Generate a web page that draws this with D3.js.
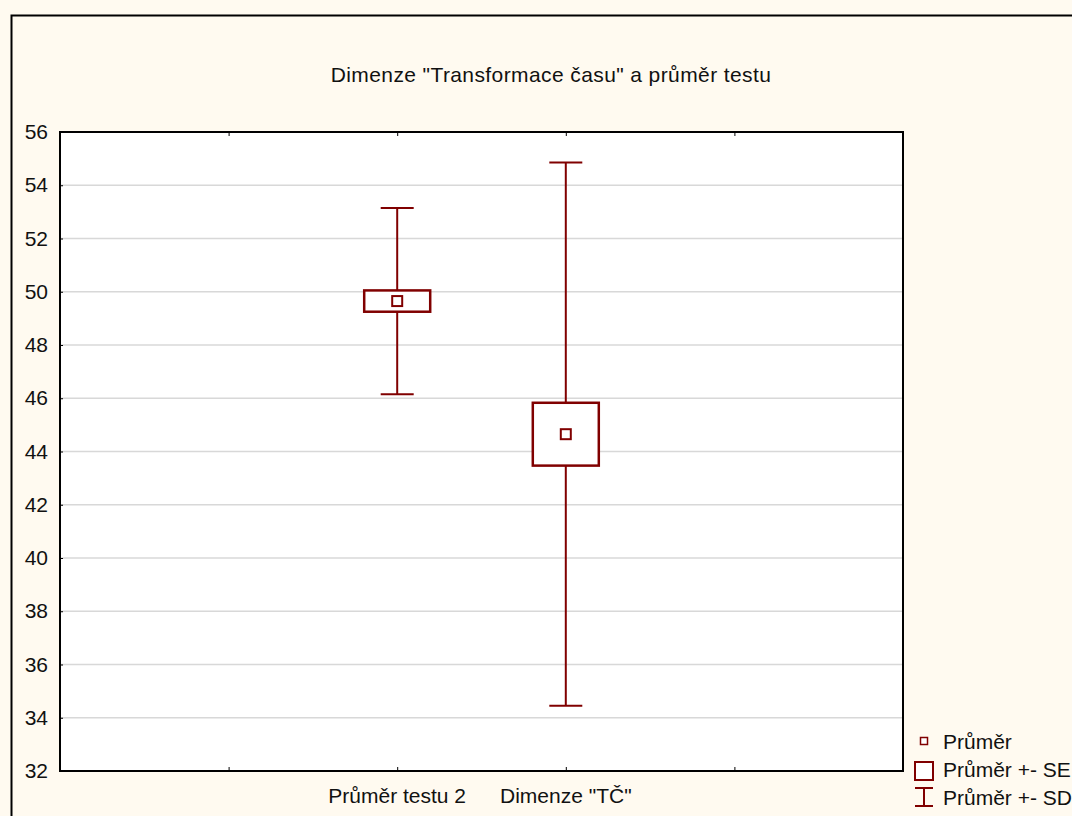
<!DOCTYPE html>
<html>
<head>
<style>
body { margin: 0; background: #fffaf0; }
svg { display: block; font-family: "Liberation Sans", Arial, sans-serif; }
</style>
</head>
<body>
<div id="chart"></div>
<script src="https://d3js.org/d3.v7.min.js"></script>
<script>
// data
var categories = ["Průměr testu 2", "Dimenze \"TČ\""]
var means = [49.65, 44.65]
var se = [0.4, 1.18]
var sd = [3.5, 10.2]
var yTicks = [32, 34, 36, 38, 40, 42, 44, 46, 48, 50, 52, 54, 56]
var legendLabels = ["Průměr", "Průměr +- SE", "Průměr +- SD"]

var width = 1072, height = 816
var margin = {left: 60, top: 132, right: 1072 - 903, bottom: 816 - 771}
var red = "#800000"
var fs = 21

var svg = d3.select("#chart").append("svg")
  .attr("width", width)
  .attr("height", height)

// page background and frame
svg.append("rect").attr("width", width).attr("height", height).attr("fill", "#fffaf0")
svg.append("path")
  .attr("d", "M11.5," + height + "V15.5H" + width)
  .attr("fill", "none").attr("stroke", "black").attr("stroke-width", 2)

var x = d3.scaleLinear().domain([0, 5]).range([margin.left, width - margin.right])
var y = d3.scaleLinear().domain([32, 56]).range([height - margin.bottom, margin.top])

svg.append("rect")
  .attr("x", x(0)).attr("y", y(56))
  .attr("width", x(5) - x(0)).attr("height", y(32) - y(56))
  .attr("fill", "white")

// gridlines
svg.append("g").selectAll("line")
  .data(yTicks.slice(1, -1))
  .join("line")
    .attr("x1", x(0)).attr("x2", x(5))
    .attr("y1", d => y(d)).attr("y2", d => y(d))
    .attr("stroke", "#d8d8d8").attr("stroke-width", 1.5)

// y axis
var yAxis = svg.append("g")
  .attr("transform", "translate(" + x(0) + ",0)")
  .call(d3.axisLeft(y).tickValues(yTicks).tickSize(-3).tickPadding(12))
yAxis.select(".domain").remove()
yAxis.selectAll("text").attr("font-size", fs).attr("font-family", "Liberation Sans, Arial, sans-serif").attr("fill", "#111")
yAxis.selectAll("line").attr("stroke", "black")

// x ticks (bottom and top, inward)
var xt = [1, 2, 3, 4]
svg.append("g").attr("transform", "translate(0," + y(32) + ")")
  .call(d3.axisBottom(x).tickValues(xt).tickSize(-4).tickFormat(""))
  .call(g => g.select(".domain").remove())
svg.append("g").attr("transform", "translate(0," + y(56) + ")")
  .call(d3.axisTop(x).tickValues(xt).tickSize(-4).tickFormat(""))
  .call(g => g.select(".domain").remove())

// category labels
svg.append("g").selectAll("text")
  .data(categories)
  .join("text")
    .attr("x", (d, i) => x(i + 2))
    .attr("y", y(32) + 32)
    .attr("text-anchor", "middle")
    .attr("font-size", fs)
    .attr("fill", "#111")
    .text(d => d)

// plot frame
svg.append("rect")
  .attr("x", x(0)).attr("y", y(56))
  .attr("width", x(5) - x(0)).attr("height", y(32) - y(56))
  .attr("fill", "none").attr("stroke", "black").attr("stroke-width", 2)

// title
svg.append("text")
  .attr("x", 551)
  .attr("y", 82)
  .attr("text-anchor", "middle")
  .attr("font-size", fs)
  .attr("letter-spacing", 0.4)
  .attr("fill", "#111")
  .text("Dimenze \"Transformace času\" a průměr testu")

// whiskers (mean +- SD)
var boxW = 66, capW = 33, dotS = 10
var g = svg.append("g").selectAll("g")
  .data(means.map((m, i) => ({m: m, se: se[i], sd: sd[i], i: i})))
  .join("g")
    .attr("transform", d => "translate(" + x(d.i + 2) + ",0)")

g.append("line")
  .attr("y1", d => y(d.m + d.sd)).attr("y2", d => y(d.m - d.sd))
  .attr("stroke", red).attr("stroke-width", 2)
g.append("line")
  .attr("x1", -capW / 2).attr("x2", capW / 2)
  .attr("y1", d => y(d.m + d.sd)).attr("y2", d => y(d.m + d.sd))
  .attr("stroke", red).attr("stroke-width", 2)
g.append("line")
  .attr("x1", -capW / 2).attr("x2", capW / 2)
  .attr("y1", d => y(d.m - d.sd)).attr("y2", d => y(d.m - d.sd))
  .attr("stroke", red).attr("stroke-width", 2)

// SE box
g.append("rect")
  .attr("x", -boxW / 2).attr("width", boxW)
  .attr("y", d => y(d.m + d.se))
  .attr("height", d => y(d.m - d.se) - y(d.m + d.se))
  .attr("fill", "white").attr("stroke", red).attr("stroke-width", 2.5)

// mean marker
g.append("rect")
  .attr("x", -dotS / 2).attr("width", dotS)
  .attr("y", d => y(d.m) - dotS / 2).attr("height", dotS)
  .attr("fill", "white").attr("stroke", red).attr("stroke-width", 2)

// legend
var lg = svg.append("g").attr("transform", "translate(924,0)")
lg.append("rect").attr("x", -3.5).attr("y", 737.5).attr("width", 7).attr("height", 7)
  .attr("fill", "white").attr("stroke", red).attr("stroke-width", 1.5)
lg.append("rect").attr("x", -9).attr("y", 762).attr("width", 18).attr("height", 18)
  .attr("fill", "white").attr("stroke", red).attr("stroke-width", 2)
lg.append("path").attr("d", "M-9,788H9M0,788V806M-9,806H9")
  .attr("fill", "none").attr("stroke", red).attr("stroke-width", 2)
lg.selectAll("text")
  .data(legendLabels)
  .join("text")
    .attr("x", 19)
    .attr("y", (d, i) => 749 + i * 28)
    .attr("font-size", fs)
    .attr("fill", "#111")
    .text(d => d)
</script>
</body>
</html>
